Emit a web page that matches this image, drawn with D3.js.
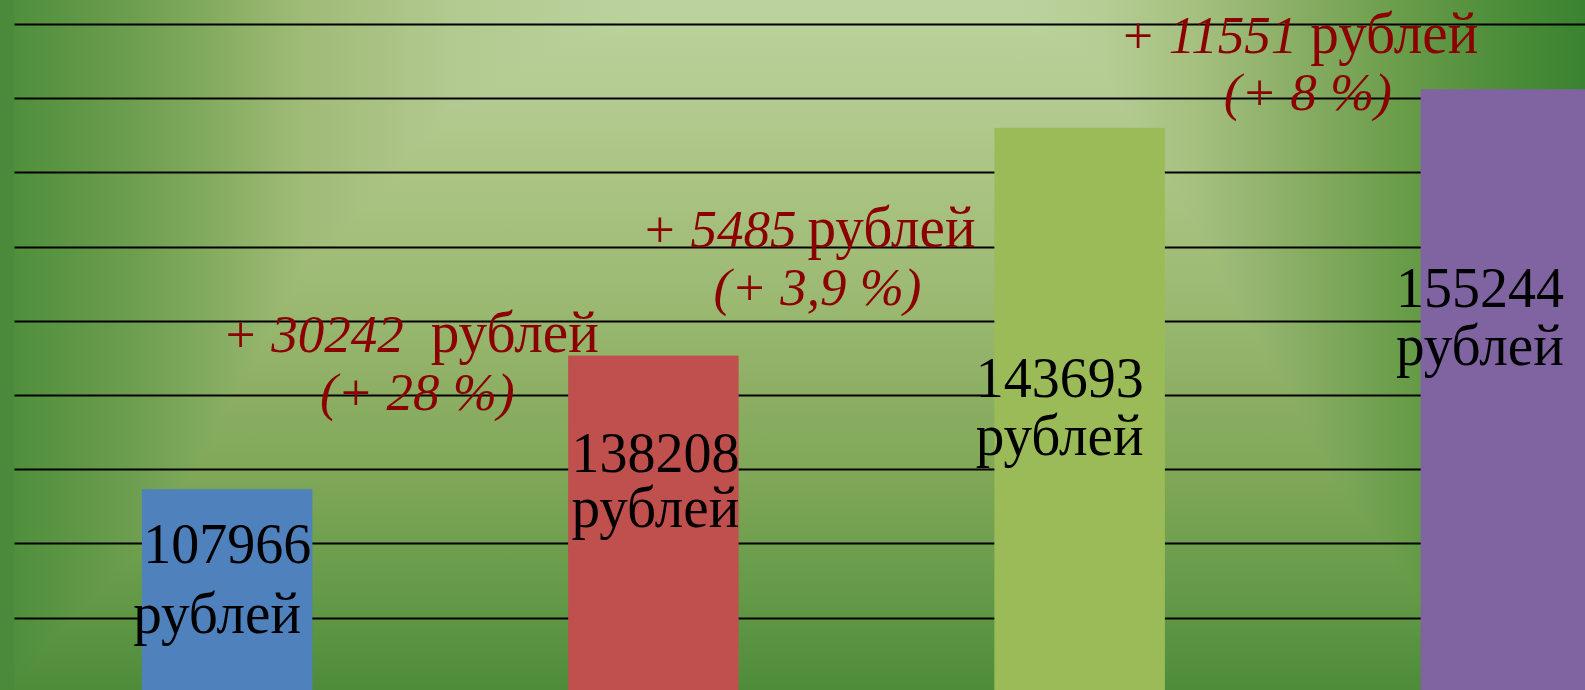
<!DOCTYPE html>
<html>
<head>
<meta charset="utf-8">
<script src="https://cdn.jsdelivr.net/npm/d3@7"></script>
<style>
  body { margin: 0; background: #fff; overflow: hidden; }
  #chart { width: 1585px; height: 690px; }
</style>
</head>
<body>
<div id="chart"></div>
<script>
// chart data
var categories = ['I', 'II', 'III', 'IV'];
// bar heights as they are drawn (axis units, axis is 0..180000)
var barLevels = [54600, 90600, 152000, 162400];
var valueLabels = ['107966', '138208', '143693', '155244'];
var unitLabel = 'рублей';
var growthAmounts = ['+ 30242', '+ 5485', '+ 11551'];
var growthPercents = ['(+ 28 %)', '(+ 3,9 %)', '(+ 8 %)'];
var gridTicks = [20000, 40000, 60000, 80000, 100000, 120000, 140000, 160000, 180000];
var barColors = ['#4f81bd', '#c0504d', '#9bbb59', '#8064a2'];

var width = 1585, height = 690;

var svg = d3.select('#chart')
    .append('svg')
    .attr('width', width)
    .attr('height', height)
    .style('display', 'block');

// background: "rectangle path" gradient faked with two linear gradients + darken blend
var defs = svg.append('defs');
var hStops = [[0, '#4a8a3a'], [14, '#4a8a3a'], [15, '#4f8f3d'], [140, '#6f9f50'], [220, '#86ad62'],
              [300, '#9fbb76'], [450, '#b2c98f'], [570, '#b8cf99'], [680, '#bcd39e'], [1000, '#bcd39e'],
              [1100, '#b6cd95'], [1200, '#a4bf7e'], [1300, '#88ad64'], [1400, '#6a9d4a'],
              [1500, '#4d8e3a'], [1585, '#3a8330']];
var vStops = [[0, '#bcd39e'], [100, '#b3cb90'], [200, '#a8c280'], [270, '#9fbc76'], [330, '#97b66d'],
              [400, '#8bae62'], [470, '#80a858'], [560, '#6c9e4c'], [620, '#5e9644'], [690, '#4e8c39']];

var hg = defs.append('linearGradient').attr('id', 'bgH')
    .attr('gradientUnits', 'userSpaceOnUse')
    .attr('x1', 0).attr('y1', 0).attr('x2', width).attr('y2', 0);
hg.selectAll('stop').data(hStops).enter().append('stop')
    .attr('offset', d => d[0] / width)
    .attr('stop-color', d => d[1]);

var vg = defs.append('linearGradient').attr('id', 'bgV')
    .attr('gradientUnits', 'userSpaceOnUse')
    .attr('x1', 0).attr('y1', 0).attr('x2', 0).attr('y2', height);
vg.selectAll('stop').data(vStops).enter().append('stop')
    .attr('offset', d => d[0] / height)
    .attr('stop-color', d => d[1]);

var bg = svg.append('g').style('isolation', 'isolate');
bg.append('rect').attr('width', width).attr('height', height).attr('fill', 'url(#bgH)');
bg.append('rect').attr('width', width).attr('height', height).attr('fill', 'url(#bgV)')
    .style('mix-blend-mode', 'darken');

// scales (plot runs past the right edge, last bar is cut)
var x = d3.scaleBand()
    .domain(categories)
    .range([14, 1719])
    .paddingInner(0.6)
    .paddingOuter(0.3);

var y = d3.scaleLinear()
    .domain([0, 180000])
    .range([691.7, 24]);

// gridlines
svg.append('g')
    .selectAll('line')
    .data(gridTicks)
    .enter().append('line')
    .attr('x1', 14.5)
    .attr('x2', width)
    .attr('y1', d => Math.round(y(d)) + 0.5)
    .attr('y2', d => Math.round(y(d)) + 0.5)
    .attr('stroke', '#000')
    .attr('stroke-width', 2);

// bars
svg.append('g')
    .selectAll('rect')
    .data(barLevels)
    .enter().append('rect')
    .attr('x', (d, i) => x(categories[i]))
    .attr('y', d => y(d))
    .attr('width', x.bandwidth())
    .attr('height', d => y(0) - y(d))
    .attr('fill', (d, i) => barColors[i]);

// value labels, placed by hand in the original -> nudges from bar top
var labelNudge = [
    {dx: 0, numDy: 74, unitDx: -10, unitDy: 144},
    {dx: 2, numDy: 116, unitDx: 2, unitDy: 171},
    {dx: -20, numDy: 269, unitDx: -20, unitDy: 327},
    {dx: -26, numDy: 218, unitDx: -26, unitDy: 276}
];
var serif = "'Liberation Serif', 'Times New Roman', serif";
var unitWidth = 168;   // the source font has a bigger x-height, so squeeze a bigger size back to width

var vl = svg.append('g')
    .attr('font-family', serif)
    .attr('fill', '#000')
    .attr('text-anchor', 'middle');

vl.selectAll('text.num')
    .data(valueLabels)
    .enter().append('text')
    .attr('class', 'num')
    .attr('font-size', 56)
    .attr('x', (d, i) => x(categories[i]) + x.bandwidth() / 2 + labelNudge[i].dx)
    .attr('y', (d, i) => y(barLevels[i]) + labelNudge[i].numDy)
    .text(d => d);

vl.selectAll('text.unit')
    .data(valueLabels)
    .enter().append('text')
    .attr('class', 'unit')
    .attr('font-size', 59)
    .attr('textLength', unitWidth)
    .attr('lengthAdjust', 'spacingAndGlyphs')
    .attr('x', (d, i) => x(categories[i]) + x.bandwidth() / 2 + labelNudge[i].unitDx)
    .attr('y', (d, i) => y(barLevels[i]) + labelNudge[i].unitDy)
    .text(unitLabel);

// growth notes between bars, anchored on midpoint of neighbours and next bar top
var noteNudge = [
    {dx1: -218, dy1: -4, gap: 27, dx2: -23, dy2: 54},
    {dx1: -225, dy1: 119, gap: 11, dx2: -49, dy2: 177},
    {dx1: -173, dy1: -36, gap: 13, dx2: 15, dy2: 21}
];
var noteColor = '#8b0000';

var notes = svg.append('g')
    .attr('font-family', serif)
    .attr('fill', noteColor);

growthAmounts.forEach(function(amount, i) {
    var cx = (x(categories[i]) + x(categories[i + 1])) / 2 + x.bandwidth() / 2;
    var top = y(barLevels[i + 1]);
    var n = noteNudge[i];

    var t1 = notes.append('text')
        .attr('x', cx + n.dx1)
        .attr('y', top + n.dy1)
        .attr('font-style', 'italic')
        .attr('font-size', 53)
        .text(amount);
    var w = t1.node().getComputedTextLength();

    notes.append('text')
        .attr('x', cx + n.dx1 + w + n.gap)
        .attr('y', top + n.dy1)
        .attr('font-size', 59)
        .attr('textLength', unitWidth)
        .attr('lengthAdjust', 'spacingAndGlyphs')
        .text(unitLabel);

    notes.append('text')
        .attr('x', cx + n.dx2)
        .attr('y', top + n.dy2)
        .attr('text-anchor', 'middle')
        .attr('font-style', 'italic')
        .attr('font-size', 53)
        .text(growthPercents[i]);
});
</script>
</body>
</html>
